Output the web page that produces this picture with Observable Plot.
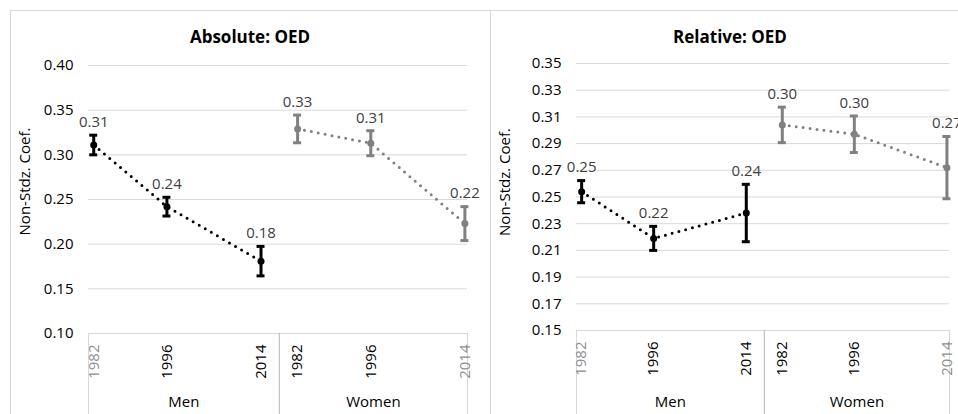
<!DOCTYPE html>
<html>
<head>
<meta charset="utf-8">
<script src="https://cdn.jsdelivr.net/npm/d3@7"></script>
<script src="https://cdn.jsdelivr.net/npm/@observablehq/plot@0.6"></script>
<style>
  html, body { margin: 0; padding: 0; background: #fff; overflow: hidden; width: 958px; height: 414px; }
  #wrap { position: relative; width: 958px; height: 414px; overflow: hidden; font-family: "Open Sans", sans-serif; }
  .box { position: absolute; top: 10px; height: 420px; box-sizing: border-box; border-top: 1px solid #d9d9d9; }
  #boxL { left: 10px; width: 481px; border-left: 1px solid #d9d9d9; border-right: 1px solid #d9d9d9; }
  #boxR { left: 490px; width: 480px; }
  .title { position: absolute; top: 27px; width: 480px; text-align: center; font-weight: bold; font-size: 17px; line-height: 20px; color: #000; white-space: nowrap; }
  .chart { position: absolute; top: 45px; width: 480px; height: 369px; }
  .chart svg { overflow: visible; max-width: none !important; width: 480px; height: 369px; }
</style>
</head>
<body>
<div id="wrap">
  <div class="box" id="boxL"></div>
  <div class="box" id="boxR"></div>
  <div class="title" id="titleL" style="left:10px"></div>
  <div class="title" id="titleR" style="left:490px"></div>
  <div class="chart" id="chartL" style="left:10px"></div>
  <div class="chart" id="chartR" style="left:490px"></div>
</div>
<script>
// ---- data ----
const years = [1982, 1996, 2014];
const groups = ["Men", "Women"];
const titles = ["Absolute: OED", "Relative: OED"];
const yLabel = "Non-Stdz. Coef.";

const absMen = [0.311, 0.242, 0.181];
const absMenErr = [0.011, 0.0105, 0.0165];
const absWomen = [0.329, 0.313, 0.223];
const absWomenErr = [0.0155, 0.014, 0.019];

const relMen = [0.254, 0.219, 0.238];
const relMenErr = [0.0083, 0.009, 0.0215];
const relWomen = [0.304, 0.297, 0.272];
const relWomenErr = [0.0133, 0.0137, 0.0233];

const absTicks = [0.10, 0.15, 0.20, 0.25, 0.30, 0.35, 0.40];
const relTicks = [0.15, 0.17, 0.19, 0.21, 0.23, 0.25, 0.27, 0.29, 0.31, 0.33, 0.35];

// ---- layout helpers ----
const groupGap = 7; // years of empty space between the two groups on the axis
const groupSpan = years[years.length - 1] - years[0] + groupGap;
const xDomain = [years[0] - 1, years[years.length - 1] + groupSpan + 0.5];
const divider = (years[years.length - 1] + years[0] + groupSpan) / 2;
const fmt = d3.format(".2f");
const colors = ["#000000", "#808080"];

function rowsFor(menVals, menErr, womenVals, womenErr) {
  const rows = [];
  [[menVals, menErr], [womenVals, womenErr]].forEach(([vals, errs], g) => {
    years.forEach((yr, i) => {
      rows.push({
        group: groups[g], year: yr, pos: yr + g * groupSpan,
        est: vals[i], lo: vals[i] - errs[i], hi: vals[i] + errs[i],
        label: fmt(vals[i]),
        edge: (g === 0 && i === 0) || (g === 1 && i === years.length - 1)
      });
    });
  });
  return rows;
}

function panel(rows, ticks, cfg) {
  const yDomain = [ticks[0], ticks[ticks.length - 1]];
  const groupCenters = [
    {name: groups[0], pos: (xDomain[0] + divider) / 2},
    {name: groups[1], pos: (divider + xDomain[1]) / 2}
  ];
  return Plot.plot({
    width: 480, height: 369,
    marginLeft: cfg.ml, marginRight: cfg.mr, marginTop: cfg.mt, marginBottom: cfg.mb,
    style: {fontFamily: "'Open Sans', sans-serif", fontSize: "15px", background: "transparent", overflow: "visible", maxWidth: "none"},
    x: {domain: xDomain, axis: null},
    y: {domain: yDomain, axis: null},
    color: {domain: groups, range: colors},
    marks: [
      Plot.ruleY(ticks, {stroke: "#d9d9d9", strokeWidth: 1}),
      // y tick labels
      Plot.text(ticks, {y: d => d, text: d => fmt(d), frameAnchor: "left", textAnchor: "end", lineAnchor: "middle", dx: -15, fill: "#000", fontSize: 15}),
      // y axis title
      Plot.text([yLabel], {text: d => d, frameAnchor: "left", textAnchor: "middle", lineAnchor: "middle", rotate: -90, dx: cfg.ylx, dy: cfg.yly, fill: "#000", fontSize: 15}),
      // category axis: separators
      Plot.ruleX([xDomain[0], xDomain[1]], {y1: yDomain[0], y2: yDomain[0], insetBottom: -cfg.mb, stroke: "#d9d9d9"}),
      Plot.ruleX([divider], {y1: yDomain[0], y2: yDomain[0], insetBottom: -cfg.mb, stroke: "#b4b4b4"}),
      // year labels
      Plot.text(rows, {x: "pos", text: d => String(d.year), frameAnchor: "bottom", rotate: -90, textAnchor: "end", lineAnchor: "middle", dy: 11, fontSize: 15, fill: d => d.edge ? "#8f8f8f" : "#000"}),
      // group labels
      Plot.text(groupCenters, {x: "pos", text: "name", frameAnchor: "bottom", lineAnchor: "middle", dy: cfg.gdy, fontSize: 15, fill: "#000"}),
      // dotted series lines
      Plot.line(rows, {x: "pos", y: "est", z: "group", stroke: "group", strokeWidth: 3, strokeDasharray: "0 7", strokeLinecap: "round"}),
      // error bars
      Plot.ruleX(rows, {x: "pos", y1: "lo", y2: "hi", stroke: "group", strokeWidth: 3}),
      Plot.ruleY(rows, {y: "hi", x1: "pos", x2: "pos", insetLeft: -4, insetRight: -4, stroke: "group", strokeWidth: 3}),
      Plot.ruleY(rows, {y: "lo", x1: "pos", x2: "pos", insetLeft: -4, insetRight: -4, stroke: "group", strokeWidth: 3}),
      Plot.dot(rows, {x: "pos", y: "est", fill: "group", r: 3.5}),
      // value labels
      Plot.text(rows, {x: "pos", y: "hi", text: "label", lineAnchor: "middle", dy: -13, fill: "#404040", fontSize: 15})
    ]
  });
}

document.getElementById("titleL").textContent = titles[0];
document.getElementById("titleR").textContent = titles[1];

document.getElementById("chartL").append(
  panel(rowsFor(absMen, absMenErr, absWomen, absWomenErr), absTicks,
        {ml: 78, mr: 23, mt: 20, mb: 81, ylx: -63, yly: -18, gdy: 69})
);
document.getElementById("chartR").append(
  panel(rowsFor(relMen, relMenErr, relWomen, relWomenErr), relTicks,
        {ml: 86, mr: 21, mt: 18, mb: 84, ylx: -71, yly: -15, gdy: 72})
);
</script>
</body>
</html>
